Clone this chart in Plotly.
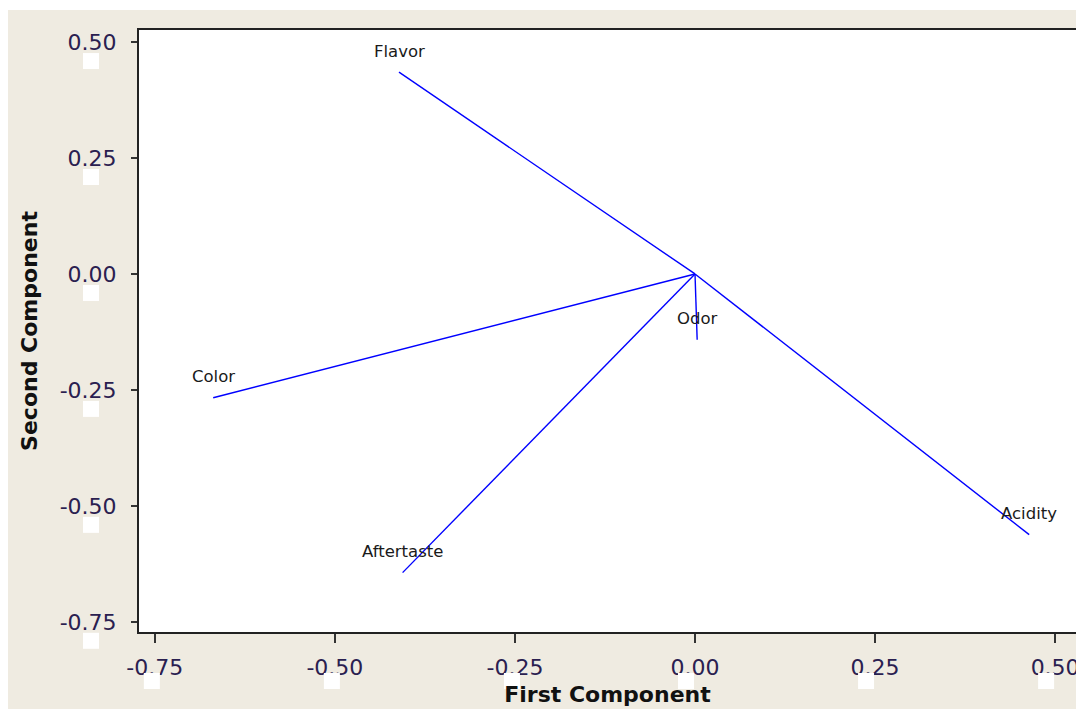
import plotly.graph_objects as go

# Data: loadings of the first two principal components
variables = ["Flavor", "Acidity", "Color", "Aftertaste", "Odor"]
first_component = [-0.411, 0.464, -0.669, -0.406, 0.003]
second_component = [0.435, -0.562, -0.267, -0.644, -0.142]

x_ticks = [-0.75, -0.50, -0.25, 0.00, 0.25, 0.50]
y_ticks = [-0.75, -0.50, -0.25, 0.00, 0.25, 0.50]
x_tick_labels = ["-0.75", "-0.50", "-0.25", "0.00", "0.25", "0.50"]
y_tick_labels = ["-0.75", "-0.50", "-0.25", "0.00", "0.25", "0.50"]

X_RANGE = [-0.772, 0.529]
Y_RANGE = [-0.772, 0.526]

W, H = 1076, 709
ML, MR, MT, MB = 139, 0, 30, 77
PW = W - ML - MR
PH = H - MT - MB

BEIGE = "#EFEBE1"
LINE_BLUE = "#0000FF"
TICK_COLOR = "#2a2050"

fig = go.Figure()

# loading vectors from origin
xs, ys = [], []
for a, b in zip(first_component, second_component):
    xs += [0, a, None]
    ys += [0, b, None]
fig.add_trace(go.Scatter(x=xs, y=ys, mode="lines",
                         line=dict(color=LINE_BLUE, width=1.4),
                         hoverinfo="skip", showlegend=False))

# labels at the vector tips
for name, a, b in zip(variables, first_component, second_component):
    fig.add_annotation(x=a, y=b, text=name, showarrow=False,
                       xanchor="center", yanchor="middle", yshift=21,
                       font=dict(family="DejaVu Sans", size=16.5, color="#1a1a1a"))

shapes = []
# white strips at top and left edges of the picture
shapes.append(dict(type="rect", xref="paper", yref="paper",
                   x0=-0.3, x1=1.1, y0=(H - MB - 10) / PH, y1=1.2,
                   fillcolor="white", line=dict(width=0), layer="above"))
shapes.append(dict(type="rect", xref="paper", yref="paper",
                   x0=-0.3, x1=(8 - ML) / PW, y0=-0.3, y1=1.2,
                   fillcolor="white", line=dict(width=0), layer="above"))


def x_to_px(v):
    return ML + (v - X_RANGE[0]) / (X_RANGE[1] - X_RANGE[0]) * PW


def y_to_px(v):
    return MT + (Y_RANGE[1] - v) / (Y_RANGE[1] - Y_RANGE[0]) * PH


def px_to_paper_x(px):
    return (px - ML) / PW


def px_to_paper_y(py):
    return (H - MB - py) / PH


# small white squares under the tick labels
for v, lab in zip(x_ticks, x_tick_labels):
    off = -3 if lab.startswith("-") else -9
    cx = x_to_px(v) + off
    shapes.append(dict(type="rect", xref="paper", yref="paper",
                       x0=px_to_paper_x(cx - 8), x1=px_to_paper_x(cx + 8),
                       y0=px_to_paper_y(689), y1=px_to_paper_y(673),
                       fillcolor="white", line=dict(width=0), layer="above"))
for v in y_ticks:
    ty = y_to_px(v)
    shapes.append(dict(type="rect", xref="paper", yref="paper",
                       x0=px_to_paper_x(83), x1=px_to_paper_x(99),
                       y0=px_to_paper_y(ty + 27), y1=px_to_paper_y(ty + 11),
                       fillcolor="white", line=dict(width=0), layer="above"))

fig.update_layout(
    width=W, height=H,
    margin=dict(l=ML, r=MR, t=MT, b=MB, pad=0, autoexpand=False),
    paper_bgcolor=BEIGE,
    plot_bgcolor="white",
    shapes=shapes,
    showlegend=False,
    xaxis=dict(
        range=X_RANGE, tickmode="array", tickvals=x_ticks, ticktext=x_tick_labels,
        showgrid=False, zeroline=False, automargin=False,
        showline=True, linecolor="#222222", linewidth=2, mirror=True,
        ticks="outside", ticklen=9, tickwidth=1.5, tickcolor="#333333",
        ticklabelstandoff=6, ticklabeloverflow="allow",
        tickfont=dict(family="DejaVu Sans", size=22, color=TICK_COLOR),
        title=dict(text="<b>First Component</b>", standoff=7,
                   font=dict(family="DejaVu Sans", size=22, color="#111111")),
    ),
    yaxis=dict(
        range=Y_RANGE, tickmode="array", tickvals=y_ticks, ticktext=y_tick_labels,
        showgrid=False, zeroline=False, automargin=False,
        showline=True, linecolor="#222222", linewidth=2, mirror=False,
        ticks="outside", ticklen=6, tickwidth=1.5, tickcolor="#333333",
        ticklabelstandoff=10, ticklabeloverflow="allow",
        tickfont=dict(family="DejaVu Sans", size=22, color=TICK_COLOR),
        title=dict(text="<b>Second Component</b>", standoff=16,
                   font=dict(family="DejaVu Sans", size=22, color="#111111")),
    ),
)

fig.write_html("out.html")
